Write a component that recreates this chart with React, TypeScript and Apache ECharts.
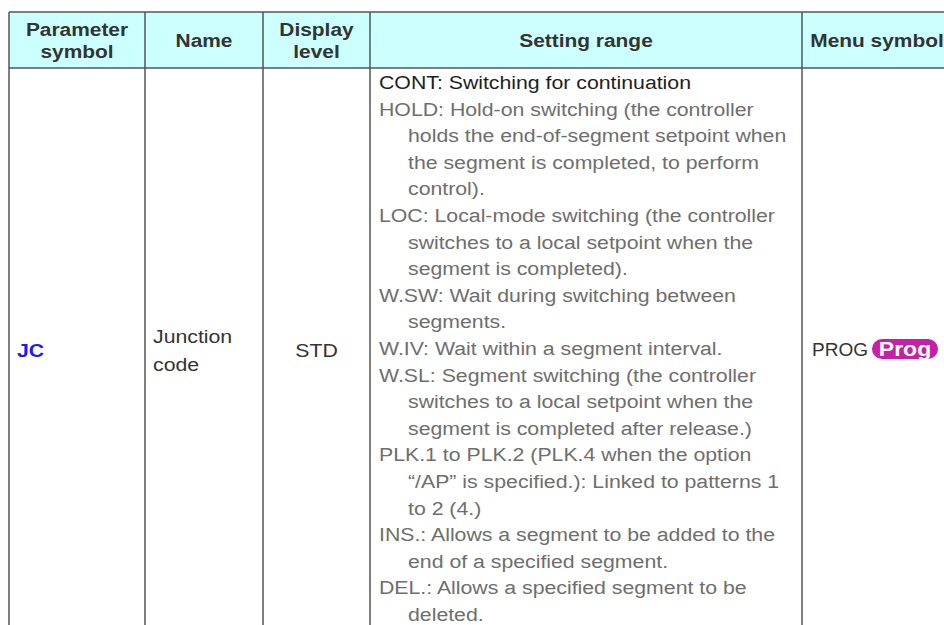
import React, { useEffect, useRef } from "react";
import * as echarts from "echarts";

// ---- table content ----
const HEADERS = ["Parameter\nsymbol", "Name", "Display\nlevel", "Setting range", "Menu symbol"];
const PARAM_SYMBOL = "JC";
const NAME_LINES = ["Junction", "code"];
const DISPLAY_LEVEL = "STD";
const SETTING_ITEMS: string[][] = [
  ["CONT: Switching for continuation"],
  [
    "HOLD: Hold-on switching (the controller",
    "holds the end-of-segment setpoint when",
    "the segment is completed, to perform",
    "control).",
  ],
  [
    "LOC: Local-mode switching (the controller",
    "switches to a local setpoint when the",
    "segment is completed).",
  ],
  ["W.SW: Wait during switching between", "segments."],
  ["W.IV: Wait within a segment interval."],
  [
    "W.SL: Segment switching (the controller",
    "switches to a local setpoint when the",
    "segment is completed after release.)",
  ],
  [
    "PLK.1 to PLK.2 (PLK.4 when the option",
    "\u201c/AP\u201d is specified.): Linked to patterns 1",
    "to 2 (4.)",
  ],
  ["INS.: Allows a segment to be added to the", "end of a specified segment."],
  ["DEL.: Allows a specified segment to be", "deleted."],
];
const MENU_SYMBOL = "PROG";
const MENU_KEY = "Prog";

// ---- layout ----
const COLS = [9, 145, 263, 370, 802, 952];
const TOP = 12;
const HEAD_BOTTOM = 68;
const BOTTOM = 640;
const FONT = "Liberation Sans, Arial, Helvetica, sans-serif";
const FS = 19;
const SX = 1.12;
const LINE_H = 26.6;
const FIRST_LINE_Y = 82.5;
const ROW_MID = 350;
const BORDER = "#555555";

function txt(x: number, y: number, text: string, opts: any = {}) {
  return {
    type: "text",
    x,
    y,
    scaleX: opts.sx ?? SX,
    style: {
      text,
      fontFamily: FONT,
      fontSize: opts.fontSize ?? FS,
      fontWeight: opts.bold ? "bold" : "normal",
      fill: opts.fill ?? "#333333",
      align: opts.align ?? "left",
      verticalAlign: "middle",
    },
    z: 10,
  };
}

function buildElements() {
  const els: any[] = [];
  // header background
  els.push({
    type: "rect",
    shape: { x: COLS[0], y: TOP, width: COLS[5] - COLS[0], height: HEAD_BOTTOM - TOP },
    style: { fill: "#ccffff" },
    z: 1,
  });
  // header texts
  HEADERS.forEach((h, i) => {
    const cx = (COLS[i] + COLS[i + 1]) / 2;
    const lines = h.split("\n");
    const lh = 22;
    const start = (TOP + HEAD_BOTTOM) / 2 - ((lines.length - 1) * lh) / 2;
    lines.forEach((ln, j) => {
      els.push(txt(cx, start + j * lh, ln, { bold: true, align: "center", fill: "#333333", sx: 1.1 }));
    });
  });
  // grid lines
  els.push({ type: "line", shape: { x1: COLS[0], y1: TOP, x2: 960, y2: TOP }, style: { stroke: BORDER, lineWidth: 1.5 }, z: 5 });
  els.push({ type: "line", shape: { x1: COLS[0], y1: HEAD_BOTTOM, x2: 960, y2: HEAD_BOTTOM }, style: { stroke: BORDER, lineWidth: 1.5 }, z: 5 });
  COLS.slice(0, 5).forEach((x) => {
    els.push({ type: "line", shape: { x1: x, y1: TOP, x2: x, y2: BOTTOM }, style: { stroke: BORDER, lineWidth: 1.5 }, z: 5 });
  });
  // parameter symbol
  els.push(txt(COLS[0] + 8, ROW_MID, PARAM_SYMBOL, { bold: true, fill: "#1a1aff" }));
  // name
  NAME_LINES.forEach((ln, j) => {
    els.push(txt(COLS[1] + 8, ROW_MID - 14 + j * 28, ln, { fill: "#333333" }));
  });
  // display level
  els.push(txt((COLS[2] + COLS[3]) / 2, ROW_MID, DISPLAY_LEVEL, { align: "center", fill: "#333333" }));
  // setting range
  let idx = 0;
  SETTING_ITEMS.forEach((item, k) => {
    item.forEach((ln, j) => {
      const x = j === 0 ? COLS[3] + 9 : COLS[3] + 38;
      els.push(txt(x, FIRST_LINE_Y + idx * LINE_H, ln, { fill: k === 0 ? "#1e1e1e" : "#6e6e6e" }));
      idx++;
    });
  });
  // menu symbol
  els.push(txt(COLS[4] + 10, ROW_MID - 1, MENU_SYMBOL, { fill: "#333333", sx: 1.0 }));
  els.push({
    type: "rect",
    shape: { x: 872, y: 339, width: 66, height: 20, r: 10 },
    style: { fill: "#c81fa8" },
    z: 6,
  });
  els.push(txt(905, ROW_MID - 1, MENU_KEY, { bold: true, align: "center", fill: "#ffffff", fontSize: 20, sx: 1.15 }));
  return els;
}

export default function App() {
  const ref = useRef<HTMLDivElement>(null);
  useEffect(() => {
    if (!ref.current) return;
    const chart = echarts.init(ref.current, undefined, { renderer: "svg" });
    chart.setOption({
      animation: false,
      backgroundColor: "#ffffff",
      graphic: { elements: buildElements() },
    });
    return () => chart.dispose();
  }, []);
  return (
    <div
      ref={ref}
      style={{ position: "fixed", left: 0, top: 0, width: 944, height: 625, background: "#fff" }}
    />
  );
}
